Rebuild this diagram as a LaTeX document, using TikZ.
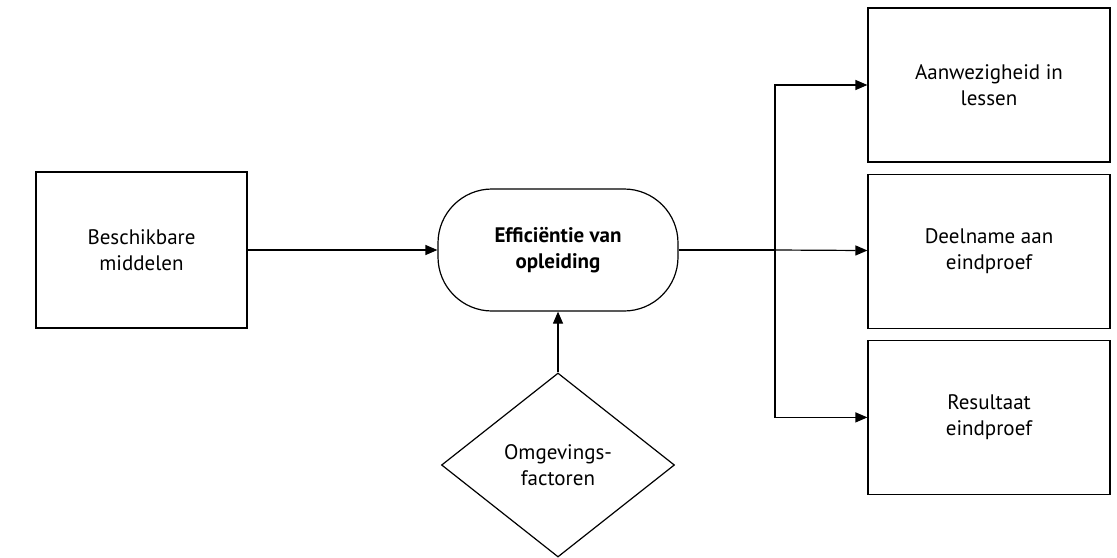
\documentclass[tikz,border=0pt]{standalone}
\usepackage{fontspec}
\setmainfont{PT Sans}
\usetikzlibrary{arrows.meta,positioning,shapes.geometric}

\begin{document}
\begin{tikzpicture}[->,>={Triangle[length=6pt,width=5pt]},x=0.5pt,y=-0.5pt,
  line width=0.6pt,font=\fontsize{10.5}{13}\selectfont,
  box node/.style={rectangle,draw,align=center,minimum width=105.5pt,minimum height=78pt},
  out node/.style={rectangle,draw,align=center,minimum width=121pt,minimum height=77pt},
  main node/.style={rectangle,rounded corners=27pt,draw,align=center,
    font=\fontsize{10.5}{13}\selectfont\bfseries,minimum width=120pt,minimum height=61pt},
  env node/.style={diamond,draw,align=center,minimum width=116.5pt,minimum height=92pt,inner sep=0pt}]

  \useasboundingbox (0,0) rectangle (1117,557);

  \node[box node] (middelen) at (141.5,250) {Beschikbare\\middelen};
  \node[main node] (eff) at (558,250) {Efficiëntie van\\opleiding};
  \node[env node] (omg) at (558,465) {Omgevings-\\factoren};

  \node[out node] (les) at (989,85) {Aanwezigheid in\\lessen};
  \node[out node] (deel) [below=5.5pt of les] {Deelname aan\\eindproef};
  \node[out node] (res) [below=5.5pt of deel] {Resultaat\\eindproef};

  \coordinate (split) at (775,250);

  \draw (middelen) -- (eff);
  \draw (omg) -- (eff);
  \draw[-] (eff) -- (split);
  \draw (split) |- (les);
  \draw (split) -- (deel);
  \draw (split) |- (res);
\end{tikzpicture}
\end{document}
